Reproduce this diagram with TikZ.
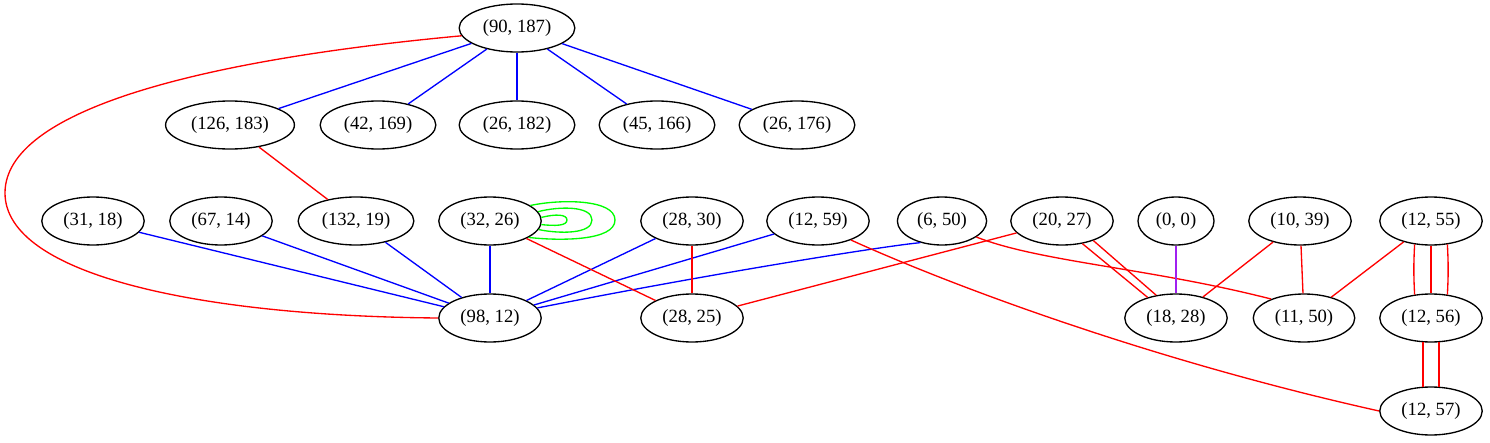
\documentclass[tikz,border=0pt]{standalone}
\usepackage{fontspec}
\setmainfont{Liberation Serif}
\usetikzlibrary{shapes.geometric}
\definecolor{gvpurple}{HTML}{A020F0}
\tikzset{
  gnode/.style={draw, ellipse, line width=1pt, minimum height=36pt, inner xsep=5pt, inner ysep=0pt,
    font=\fontsize{14pt}{16pt}\selectfont},
  eb/.style={draw=blue, line width=1pt},
  er/.style={draw=red, line width=1pt},
  eg/.style={draw=green, line width=1pt},
  ep/.style={draw=gvpurple, line width=1pt}
}
\begin{document}
\begin{tikzpicture}[x=0.75pt, y=-0.75pt]
\useasboundingbox (0,0) rectangle (1490,443);
% row 1
\node[gnode] (n90187) at (517,28) {(90, 187)};
% row 2
\node[gnode] (n126183) at (230,125) {(126, 183)};
\node[gnode] (n42169) at (378,125) {(42, 169)};
\node[gnode] (n26182) at (517,125) {(26, 182)};
\node[gnode] (n45166) at (657,125) {(45, 166)};
\node[gnode] (n26176) at (797,125) {(26, 176)};
% row 3
\node[gnode] (n3118) at (93,221) {(31, 18)};
\node[gnode] (n6714) at (221,221) {(67, 14)};
\node[gnode] (n13219) at (356,221) {(132, 19)};
\node[gnode] (n3226) at (490,221) {(32, 26)};
\node[gnode] (n2830) at (692,221) {(28, 30)};
\node[gnode] (n1259) at (818,221) {(12, 59)};
\node[gnode] (n650) at (942,221) {(6, 50)};
\node[gnode] (n2027) at (1062,221) {(20, 27)};
\node[gnode] (n00) at (1176,221) {(0, 0)};
\node[gnode] (n1039) at (1300,221) {(10, 39)};
\node[gnode] (n1255) at (1431,221) {(12, 55)};
% row 4
\node[gnode] (n9812) at (490,318) {(98, 12)};
\node[gnode] (n2825) at (692,318) {(28, 25)};
\node[gnode] (n1828) at (1176,318) {(18, 28)};
\node[gnode] (n1150) at (1304,318) {(11, 50)};
\node[gnode] (n1256) at (1431,318) {(12, 56)};
% row 5
\node[gnode] (n1257) at (1431,411) {(12, 57)};

% blue edges from top
\draw[eb] (n90187) -- (n126183);
\draw[eb] (n90187) -- (n42169);
\draw[eb] (n90187) -- (n26182);
\draw[eb] (n90187) -- (n45166);
\draw[eb] (n90187) -- (n26176);
% big red curve
\draw[er] (n90187.188) .. controls (200,60) and (5,110) .. (5,193) .. controls (5,275) and (200,316) .. (n9812.west);
\draw[er] (n126183) -- (n13219);
% blue into (98,12)
\draw[eb] (n3118) -- (n9812);
\draw[eb] (n6714) -- (n9812);
\draw[eb] (n13219) -- (n9812);
\draw[eb] (n3226) -- (n9812);
\draw[eb] (n2830) -- (n9812);
\draw[eb] (n1259) -- (n9812);
\draw[eb] (n650.-135) .. controls (885,246) and (720,272) .. (n9812.12);
% self loops
\draw[eg] (n3226.4) .. controls (555,214) and (567,214) .. (567,220) .. controls (567,226) and (555,226) .. (n3226.-4);
\draw[eg] (n3226.11) .. controls (560,206) and (592,206) .. (592,220) .. controls (592,234) and (560,234) .. (n3226.-10);
\draw[eg] (n3226.21) .. controls (560,199) and (615,199) .. (615,220) .. controls (615,241) and (560,241) .. (n3226.-23);
% red edges
\draw[er] (n3226) -- (n2825);
\draw[er] (n2830) -- (n2825);
\draw[er] (n2027) -- (n2825);
\draw[er] (n1259.-30) .. controls (950,285) and (1150,360) .. (n1257.west);
\draw[er] (n650.-25) .. controls (1040,262) and (1150,268) .. (n1150.150);
\draw[er] (n2027.-48) -- (n1828.144);
\draw[er] (n2027.-32) -- (n1828.131);
\draw[ep] (n00) -- (n1828);
\draw[er] (n1039) -- (n1828);
\draw[er] (n1039) -- (n1150);
\draw[er] (n1255) -- (n1150);
\draw[er] (n1255.-125) to[bend right=3] (n1256.125);
\draw[er] (n1255.south) -- (n1256.north);
\draw[er] (n1255.-55) to[bend left=3] (n1256.55);
\draw[er] (n1256.-108) -- (n1257.108);
\draw[er] (n1256.-72) -- (n1257.72);
\end{tikzpicture}
\end{document}
